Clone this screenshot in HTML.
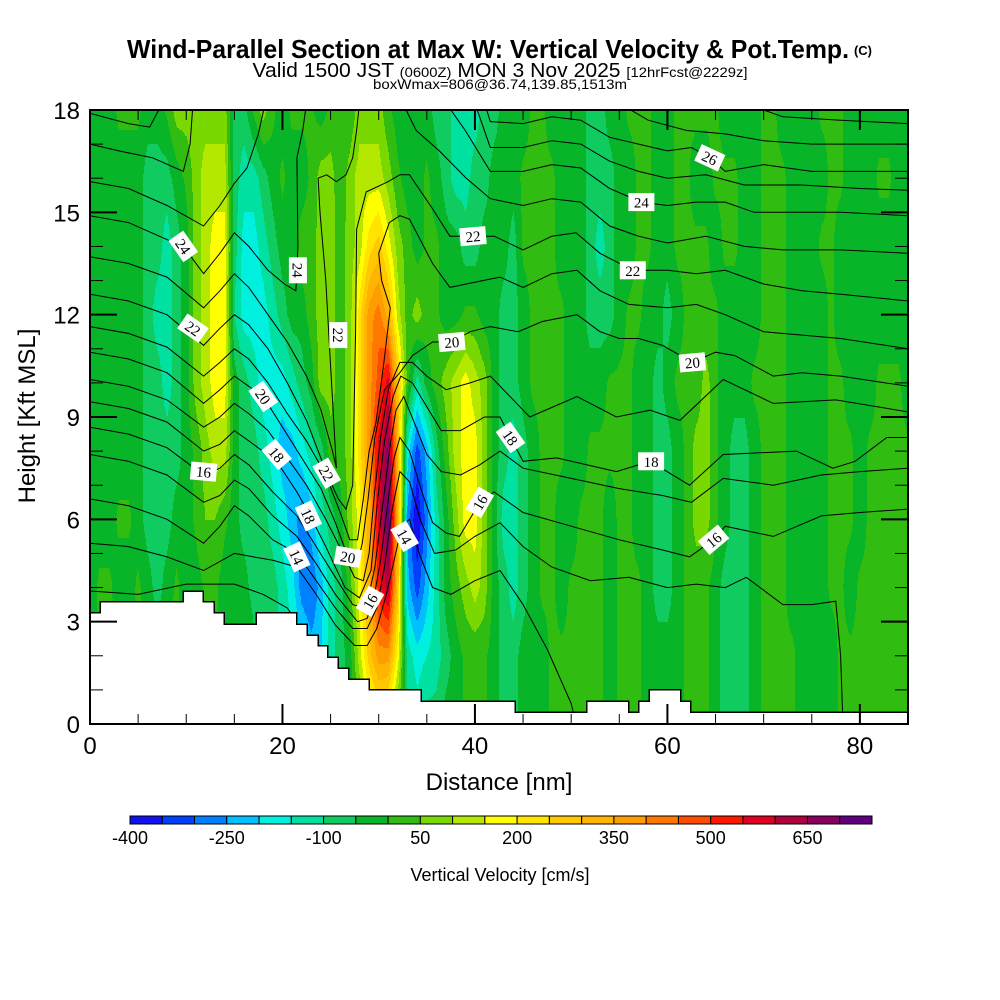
<!DOCTYPE html>
<html><head><meta charset="utf-8"><title>Wind-Parallel Section</title>
<style>
html,body{margin:0;padding:0;background:#fff;width:1000px;height:1000px;overflow:hidden}
svg{display:block}
text{font-family:"Liberation Sans",Arial,sans-serif}
.clab{font-family:"Liberation Serif",serif;font-size:15px}
</style></head>
<body>
<svg id="chart" width="1000" height="1000" viewBox="0 0 1000 1000" xmlns="http://www.w3.org/2000/svg">
<defs><clipPath id="plotclip"><rect x="90" y="110" width="818" height="614"/></clipPath></defs>
<rect x="0" y="0" width="1000" height="1000" fill="#fff"/>
<text x="488" y="58" text-anchor="middle" font-weight="bold" font-size="26" textLength="722" lengthAdjust="spacingAndGlyphs">Wind-Parallel Section at Max W: Vertical Velocity &amp; Pot.Temp.</text>
<text x="863" y="55" text-anchor="middle" font-weight="bold" font-size="13">(C)</text>
<text x="500" y="77" text-anchor="middle" font-size="20" textLength="495" lengthAdjust="spacingAndGlyphs">Valid 1500 JST <tspan font-size="14">(0600Z)</tspan> MON 3 Nov 2025 <tspan font-size="14">[12hrFcst@2229z]</tspan></text>
<text x="500" y="89" text-anchor="middle" font-size="14" textLength="254" lengthAdjust="spacingAndGlyphs">boxWmax=806@36.74,139.85,1513m</text>
<g id="field" clip-path="url(#plotclip)" shape-rendering="crispEdges"></g>
<g id="contours" clip-path="url(#plotclip)"></g>
<g id="terrain" clip-path="url(#plotclip)"></g>
<g id="clabels"></g>
<g id="axes"></g>
<rect x="90" y="110" width="818" height="614" fill="none" stroke="#000" stroke-width="2"/>
<text transform="translate(35,416) rotate(-90)" text-anchor="middle" font-size="24">Height [Kft MSL]</text>
<text x="499" y="790" text-anchor="middle" font-size="24">Distance [nm]</text>
<g id="colorbar"></g>
<text x="500" y="881" text-anchor="middle" font-size="18">Vertical Velocity [cm/s]</text>
</svg>
<script>
// ---- data ----
const distTicks = [0, 20, 40, 60, 80];
const heightTicks = [0, 3, 6, 9, 12, 15, 18];
const cbTickLabels = [-400, -250, -100, 50, 200, 350, 500, 650];
const cbColors = ["#1010f0","#0040ff","#0080ff","#00c0ff","#00f0e0","#00e0a0","#10cc60","#08b428","#30bc10","#78d800","#b4e800","#ffff00","#ffe400","#ffc800","#ffb400","#ff9c00","#ff7800","#ff4c00","#ff1800","#e00020","#b00040","#880060","#600080"];
const gridKft = [0, 2, 4, 6, 8, 10, 12, 14, 16, 18];
// vertical velocity (cm/s) at distance 0..85 nm (1 nm step), per height row
const w0  = [-25,10,10,10,-25,10,10,-25,10,10, -25,-25,10,10,-25,-25,10,-25,-75,-75, -125,-125,-150,-175,-175,-125,-75,-25,25,125, 175,125,25,-75,-125,-75,-75,-25,-25,10, 10,10,-25,-75,-75,-25,-25,-25,10,10, 10,10,10,10,-25,10,10,10,-25,-25, -25,-25,10,10,10,-25,-75,-75,-75,-25, 10,10,10,10,-25,-25,-25,-25,10,10, 10,10,10,10,10,10];
const w2  = [-25,10,10,10,-25,10,10,-25,10,10, -25,-25,10,10,-25,-25,10,-25,-75,-75, -125,-125,-175,-225,-200,-125,-75,-25,125,275, 375,375,175,-125,-175,-150,-125,-75,-25,10, 10,10,-25,-75,-75,-25,-25,-25,10,10, 10,10,10,10,-25,10,10,10,-25,-25, -25,-25,10,10,10,-25,-75,-75,-75,-25, 10,10,10,10,-25,-25,-25,-25,10,10, 10,10,10,10,10,10];
const w4  = [-25,10,10,-25,-25,10,-25,-75,-25,10, -25,-25,10,10,-25,-25,-25,-75,-75,-75, -125,-175,-275,-300,-225,-125,-75,25,175,325, 525,625,275,-225,-325,-225,-125,-25,25,75, 125,75,-25,-75,-125,-75,-25,10,10,-25, 10,10,10,10,-25,10,10,10,-25,-75, -75,-25,10,10,10,-25,-75,-75,-75,-25, 10,10,10,-25,-25,-25,-25,10,10,-25, 10,10,10,10,10,10];
const w6  = [-25,-25,-25,10,10,-25,-75,-75,-75,-25, -25,10,50,50,10,-25,-75,-75,-75,-125, -175,-225,-275,-225,-125,-75,-25,75,175,325, 575,725,325,-275,-400,-275,-125,-25,75,175, 175,75,-25,-125,-125,-75,-25,10,10,-25, -25,10,10,10,-25,10,10,-25,-25,-75, -75,-25,10,75,75,10,-25,-75,-75,-25, 10,10,10,-25,-25,-25,-25,10,10,10, -25,10,10,10,10,10];
const w8  = [-25,-25,-25,-25,-25,-25,-75,-75,-75,-75, -25,10,75,125,125,-25,-75,-75,-125,-175, -225,-225,-175,-125,-75,25,25,75,225,375, 575,675,325,-175,-325,-225,-75,25,125,175, 175,75,-25,-75,-125,-75,-25,10,10,10, -25,-25,10,10,10,10,10,-25,-25,-75, -75,-25,10,75,75,10,-25,-75,-75,-25, 10,10,10,-25,-25,-25,-25,10,10,10, -25,10,10,10,10,10];
const w10 = [-25,-25,-25,-25,-25,-25,-75,-75,-125,-75, -25,75,125,175,175,-25,-75,-125,-175,-175, -175,-125,-75,-25,75,75,25,75,225,375, 475,575,275,25,-125,-25,25,75,125,175, 125,75,-25,-75,-75,-25,10,10,10,10, -25,-25,-25,-25,10,10,10,-25,-25,-75, -25,10,10,10,75,10,-25,-25,-25,10, 10,10,10,-25,-25,-25,-25,10,10,-25, -25,-25,10,10,10,-25];
const w12 = [-25,-25,-25,-25,-25,-25,-75,-125,-125,-75, -25,75,125,175,175,-100,-175,-175,-175,-125, -75,-25,-25,25,75,75,25,75,225,375, 425,325,125,25,75,25,10,-25,-25,10, 10,-25,-25,-75,-75,-25,10,10,10,10, -25,-25,-75,-75,-75,-25,10,10,-25,-25, -75,-25,10,10,10,10,-25,-25,-25,-25, 10,10,10,-25,-25,-25,-25,10,-25,-25, -25,-25,-25,-25,-25,-25];
const w14 = [-25,-25,-25,-25,-25,-25,-75,-75,-125,-75, -25,75,125,175,175,-75,-175,-175,-125,-75, -25,-25,25,25,75,75,25,75,125,225, 275,175,75,25,-25,10,10,-25,-25,-75, -75,-25,-25,-25,-75,10,10,10,10,-25, -25,-25,-75,-125,-75,-25,-25,10,10,-25, -25,10,10,10,10,-25,10,10,-25,-25, 10,10,10,-25,-25,-25,10,10,-25,-25, -25,-25,-25,-25,-25,-25];
const w16 = [-25,-25,-25,-25,-25,-25,-75,-75,-75,-25, 10,75,125,125,125,-75,-125,-125,-75,-25, 10,-25,-25,10,75,75,10,75,125,125, 125,75,10,-25,-25,10,-25,-75,-125,-125, -75,-75,-25,-25,-25,10,10,10,10,-25, -25,-25,-75,-75,-75,-25,-25,10,10,-25, -25,10,10,-25,-25,10,10,10,-25,-25, 10,10,10,-25,-25,-25,-25,10,10,-25, -25,-25,10,10,-25,-25];
const w18 = [-25,-25,-25,10,10,10,-25,-25,10,75, 75,75,75,75,75,-75,-75,10,75,10, -25,10,10,10,-25,10,10,10,75,75, 75,10,-25,-25,-25,-25,-75,-75,-125,-125, -125,-75,-75,-25,-25,-25,10,10,-25,-25, -25,-25,-75,-75,-25,-25,10,10,10,-25, -25,10,10,10,10,10,-25,-25,-25,-25, 10,10,-25,-25,-25,-25,10,10,10,-25, -25,-25,-25,-25,-25,-25];
const wRows = [w0, w2, w4, w6, w8, w10, w12, w14, w16, w18];
// terrain: segment edges (nm) and heights (kft)
const terrX = [0,1.04,9.66,11.74,12.88,13.92,17.25,21.5,22.55,23.7,24.7,25.8,26.9,29.0,34.4,44.2,51.6,56.0,57.0,58.1,61.4,62.4,85];
const terrH = [3.26,3.58,3.9,3.58,3.26,2.93,3.26,2.93,2.61,2.29,1.96,1.64,1.32,1.0,0.67,0.35,0.67,0.35,0.67,1.0,0.67,0.35];
// potential temperature contours: [nm, kft] points
const th13 = [[0,3.9],[5,3.8],[10,4.1],[15,4.1],[18,3.8],[20.5,3.4],[21.5,3.0]];
const th14 = [[0,5.3],[4,5.2],[8,4.9],[11.8,4.5],[15,5.0],[17,4.9],[19,4.8],[21.5,4.6],[23.5,3.8],[25.5,2.9],[27.5,2.3],[28.8,2.3],[29.8,2.8],[30.8,3.8],[31.6,4.8],[32.4,5.8],[33.2,6.0],[34.2,5.0],[35.6,4.0],[37.5,3.8],[40,4.2],[42.6,4.5],[45,3.5],[47.5,2.2],[50,0.6],[50.5,0]];
const th15 = [[0,6.6],[4,6.4],[8,6.0],[11.8,5.3],[13.5,5.8],[15,6.4],[16.5,6.1],[19,5.4],[21.5,5.0],[23.5,4.2],[25.5,3.4],[27.3,2.8],[28.8,2.8],[29.8,3.4],[30.6,4.6],[31.4,6.3],[32.2,7.4],[33.2,7.1],[34.3,6.0],[35.8,5.0],[38,5.1],[40,5.5],[42.6,5.9],[45,5.2],[48,4.6],[52,4.2],[56,4.3],[60,4.0],[63,4.1],[66,4.0],[68.2,4.3],[72,3.5],[75,3.5],[77.5,3.6],[78,2],[78.2,0.3]];
const th16 = [[0,7.9],[4,7.7],[8,7.3],[11.8,6.5],[13.5,6.7],[15,7.15],[16.5,6.9],[19,6.1],[21.5,5.5],[23.5,4.7],[25.5,3.8],[27.8,3.0],[28.8,3.1],[29.5,3.7],[30.2,4.8],[31,6.6],[31.6,7.8],[32.2,8.4],[33.2,8.0],[34.5,6.8],[35.6,5.9],[37,5.6],[38.4,5.5],[40.5,6.5],[42,6.8],[45,6.2],[50,5.8],[55,5.4],[59.5,5.1],[62.3,4.9],[64.8,5.4],[66,5.8],[71,5.5],[76,6.1],[80,6.2],[85,6.3]];
const th17 = [[0,8.7],[4,8.5],[8,8.1],[11.8,7.3],[13.5,7.5],[15,7.9],[16.5,7.6],[19,6.8],[21.5,6.1],[23.5,5.2],[25.5,4.3],[27.3,3.5],[28.7,3.4],[29.6,4.6],[30.5,6.6],[31.2,8.2],[31.8,9.2],[32.6,9.6],[33.6,8.9],[35,7.9],[36.5,7.4],[38.5,7.3],[40.5,7.6],[42.6,8.0],[45,7.5],[50,7.2],[55,6.9],[59.5,6.7],[62.5,6.5],[65.8,7.2],[71,7.0],[76,7.3],[80,7.4],[85,7.5]];
const th18 = [[0,9.45],[4,9.25],[8,8.85],[11.8,8.0],[13.5,8.2],[15,8.6],[16.5,8.3],[19.4,7.7],[21.5,6.8],[22.7,6.2],[24.5,5.2],[26.5,4.0],[28,3.7],[29.2,4.5],[29.9,6.6],[30.6,8.3],[31.5,9.6],[32.3,10.2],[33.5,10.0],[35,9.3],[36.5,8.6],[38.5,8.6],[41,9.0],[42.6,9.0],[43.7,8.4],[45,7.7],[48.5,7.8],[54.7,7.4],[58.2,7.7],[62.3,7.0],[65.8,7.9],[73.4,8.0],[77.2,7.5],[79.5,7.7],[82.8,8.4],[85,8.4]];
const th19 = [[0,10.1],[4,9.9],[8,9.5],[11.8,8.7],[13.5,9.0],[15,9.4],[16.5,9.1],[18.5,8.6],[20.5,7.8],[22.5,7.0],[24.5,6.0],[26.3,5.0],[27.5,4.3],[28.4,4.2],[29,5.0],[29.5,6.6],[30.2,8.4],[31,9.8],[32.2,10.6],[33.5,10.6],[35,10.2],[37,9.8],[39.5,10.0],[41.6,10.2],[45.7,9.0],[50.6,9.6],[54.7,9.0],[58.2,9.2],[61.3,8.9],[65.8,10.1],[71,9.4],[77.5,9.5],[85,9.15]];
const th20 = [[0,10.9],[4,10.7],[8,10.3],[11.8,9.4],[13.5,9.8],[15,10.2],[16.5,9.9],[18,9.6],[20,8.7],[22,7.8],[24,6.9],[25.5,5.9],[26.8,4.9],[27.7,4.6],[28.3,5.3],[28.9,6.6],[29.6,8.4],[30.6,9.8],[32.2,10.3],[33.5,10.8],[35.6,11.2],[37.6,11.2],[39.5,11.5],[41.6,11.65],[44.5,11.5],[47,11.8],[50.6,12.0],[53,11.5],[55,11.3],[57,11.3],[59.5,11.1],[62.6,10.6],[65,10.9],[67,10.8],[71,10.2],[74,10.3],[78,10.2],[85,9.9]];
const th21 = [[0,11.65],[4,11.45],[8,11.05],[11.8,10.2],[13.5,10.6],[15,11.0],[16.5,10.7],[18.5,10.0],[20.5,9.1],[22.5,8.3],[24.5,7.3],[26,6.2],[27,5.4],[27.8,5.4],[28.4,6.6],[29,8.0],[29.7,8.8],[30.5,10.5],[31.2,12.2],[30.3,13.0],[30.0,13.8],[31.1,14.7],[32.2,14.9],[33.2,14.8],[35.6,13.5],[37.4,12.8],[40.8,13.0],[42.6,13.1],[45,12.8],[48,13.2],[50.6,13.3],[53,12.7],[56,12.3],[60,12.2],[63,12.3],[66,12.0],[70,11.5],[74,11.4],[78,11.3],[85,11.0]];
const th22 = [[0,12.6],[4,12.4],[8,12.0],[11.8,11.1],[13.5,11.6],[15,12.0],[16.5,11.7],[18.5,11.0],[20.5,10.0],[22.5,8.9],[24.6,7.35],[25.8,6.6],[26.6,6.3],[27.3,7.0],[27.4,8.6],[27.6,11.5],[27.7,14.5],[28.7,15.6],[31,15.9],[32.2,16.1],[33.2,16.1],[35.6,15.1],[37.4,14.3],[39.8,14.3],[42,14.3],[45,13.9],[48,14.3],[50.5,14.4],[53,13.8],[56.4,13.3],[60,13.3],[63,13.2],[66,13.3],[70,12.9],[74,12.7],[78,12.6],[85,12.4]];
const th23 = [[0,13.7],[4,13.5],[8,13.1],[11.8,12.2],[13.5,12.7],[15,13.2],[16.5,12.8],[18.5,12.0],[20.5,11.2],[22.5,10.2],[24,9.2],[25.2,8.0],[25.6,7.5],[25.3,9.0],[24.9,11.0],[24.5,13.0],[23.9,15.0],[23.7,16.0],[24.6,16.1],[25.6,15.9],[26.6,16.1],[27.3,16.6],[27.7,17.4],[28.0,18.2]];
const th23b = [[32.5,18.2],[33.9,17.4],[36.3,16.8],[39.1,16.0],[41.6,15.4],[45,15.2],[48,15.4],[51,15.3],[54,14.6],[57,14.3],[60,14.1],[64,14.3],[68,14.0],[72,13.9],[78,13.9],[85,13.8]];
const th24 = [[0,14.9],[4,14.7],[8,14.2],[9.7,14.0],[11.8,13.2],[13.5,13.8],[15,14.4],[16.5,14.0],[18.5,13.3],[20.2,12.9],[21.4,12.7],[21.6,14],[21.5,16.6],[22.1,17.4],[22.5,18.2]];
const th24b = [[37,18.2],[39,17.4],[41.6,16.2],[45,16.2],[48,16.4],[51,16.3],[54,15.7],[57.3,15.3],[60,15.2],[63,15.3],[66,15.3],[69,15.0],[73,15.0],[78,15.0],[85,14.9]];
const th25 = [[0,15.9],[4,15.7],[8,15.2],[11.8,14.6],[13.5,15.2],[15,15.85],[16.3,16.3],[17.5,17.3],[18.2,18.2]];
const th25b = [[40,18.2],[41.6,16.9],[45,16.9],[48,17.1],[51,17.0],[54,16.5],[57,16.2],[60,16.0],[64,16.1],[68,15.8],[74,15.8],[80,15.7],[85,15.65]];
const th26 = [[0,17.0],[3,16.8],[6.5,16.6],[9.7,16.2],[10.4,17.0],[10.7,18.2]];
const th26b = [[41,18.2],[41.6,17.66],[45,17.6],[48,17.8],[51,17.7],[54,17.2],[57,17.0],[60,16.8],[62.5,16.9],[64.4,16.6],[66,16.2],[70,16.4],[75,16.2],[85,16.2]];
const th27 = [[0,17.9],[4,17.6],[6.2,17.5],[7.5,18.2]];
const th27b = [[55,18.2],[58,17.7],[62,17.4],[66,17.3],[70,17.1],[75,17.0],[85,17.0]];
const th28b = [[68,18.2],[72,17.8],[78,17.7],[85,17.6]];
const contourLines = [th13,th14,th15,th16,th17,th18,th19,th20,th21,th22,th23,th23b,th24,th24b,th25,th25b,th26,th26b,th27,th27b,th28b];
// contour labels
const labelText = ["24","22","16","24","22","20","18","22","18","14","20","16","14","20","22","18","16","26","24","22","20","18","16"];
const labelNm   = [9.7,10.7,11.8,21.6,25.8,18.0,19.4,24.6,22.7,21.5,26.8,29.1,32.7,37.6,39.8,43.7,40.5,64.4,57.3,56.4,62.6,58.3,64.8];
const labelKft  = [14.0,11.6,7.4,13.3,11.4,9.6,7.9,7.35,6.1,4.9,4.9,3.6,5.5,11.2,14.3,8.4,6.5,16.6,15.3,13.3,10.6,7.7,5.4];
const labelRot  = [55,35,5,90,90,55,50,60,65,65,10,-60,60,-5,-5,55,-60,25,0,0,-5,0,-40];

// ---- scales ----
const X0 = 90, X1 = 908, Y0 = 724, Y1 = 110, NMMAX = 85, KMAX = 18;
const xS = nm => X0 + nm * (X1 - X0) / NMMAX;
const yS = k => Y0 - k * (Y0 - Y1) / KMAX;
const NS = "http://www.w3.org/2000/svg";
function mk(tag, attrs, parent) {
  const e = document.createElementNS(NS, tag);
  for (const k in attrs) e.setAttribute(k, attrs[k]);
  parent.appendChild(e);
  return e;
}
function sample(nm, k) {
  const nr = gridKft.length;
  let r = k / 2; if (r < 0) r = 0; if (r > nr - 1) r = nr - 1;
  const r0 = Math.min(Math.floor(r), nr - 2), t = r - r0;
  let c = nm; if (c < 0) c = 0; if (c > 85) c = 85;
  const c0 = Math.min(Math.floor(c), 84), u = c - c0;
  const A = wRows[r0], B = wRows[r0 + 1];
  const a = A[c0] * (1 - u) + A[c0 + 1] * u;
  const b = B[c0] * (1 - u) + B[c0 + 1] * u;
  return a * (1 - t) + b * t;
}

// ---- field ----
const field = document.getElementById('field');
const pathData = cbColors.map(() => []);
for (let py = Y1; py < Y0; py += 2) {
  const k = (Y0 - (py + 1)) * KMAX / (Y0 - Y1);
  let runStart = X0, runBin = -1;
  for (let px = X0; px <= X1; px++) {
    let bin = -2;
    if (px < X1) {
      const nm = (px + 0.5 - X0) * NMMAX / (X1 - X0);
      const v = sample(nm, k);
      bin = Math.max(0, Math.min(cbColors.length - 1, Math.floor((v + 400) / 50)));
    }
    if (bin !== runBin) {
      if (runBin >= 0) pathData[runBin].push('M' + runStart + ' ' + py + 'h' + (px - runStart) + 'v2h-' + (px - runStart) + 'z');
      runBin = bin; runStart = px;
    }
  }
}
pathData.forEach((d, i) => {
  if (!d.length) return;
  const p = mk('path', {d: d.join(''), fill: cbColors[i]}, field);
  
  
});

// ---- contours ----
const cg = document.getElementById('contours');
contourLines.forEach((pts, i) => {
  const d = pts.map((p, j) => (j ? 'L' : 'M') + xS(p[0]).toFixed(1) + ' ' + yS(p[1]).toFixed(1)).join('');
  const p = mk('path', {d: d, fill: 'none', stroke: '#000', 'stroke-width': 1}, cg);
  
  
});

// ---- terrain ----
const tg = document.getElementById('terrain');
let td = 'M' + xS(0) + ' ' + (Y0 + 2);
for (let i = 0; i < terrH.length; i++) {
  td += 'L' + xS(terrX[i]).toFixed(1) + ' ' + yS(terrH[i]).toFixed(1) + 'L' + xS(terrX[i + 1]).toFixed(1) + ' ' + yS(terrH[i]).toFixed(1);
}
td += 'L' + xS(85) + ' ' + (Y0 + 2) + 'Z';
const tp = mk('path', {d: td, fill: '#fff', stroke: '#000', 'stroke-width': 1.5, 'shape-rendering': 'crispEdges'}, tg);



// ---- contour labels ----
const lg = document.getElementById('clabels');
labelText.forEach((t, i) => {
  const g = mk('g', {transform: 'translate(' + xS(labelNm[i]).toFixed(1) + ',' + yS(labelKft[i]).toFixed(1) + ') rotate(' + labelRot[i] + ')'}, lg);
  
  
  mk('rect', {x: -13, y: -9, width: 26, height: 18, fill: '#fff'}, g);
  const tx = mk('text', {x: 0, y: 5.5, 'text-anchor': 'middle', class: 'clab'}, g);
  tx.textContent = t;
});

// ---- axes ----
const ag = document.getElementById('axes');
for (let nm = 0; nm <= 85; nm += 5) {
  const x = xS(nm), major = nm % 20 === 0, L = major ? 20 : 10;
  mk('line', {x1: x, y1: Y0, x2: x, y2: Y0 - L, stroke: '#000', 'stroke-width': major ? 2 : 1}, ag);
  mk('line', {x1: x, y1: Y1, x2: x, y2: Y1 + L, stroke: '#000', 'stroke-width': major ? 2 : 1}, ag);
}
for (let k = 0; k <= 18; k += 1) {
  const y = yS(k), major = k % 3 === 0, L = major ? 27 : 13;
  mk('line', {x1: X0, y1: y, x2: X0 + L, y2: y, stroke: '#000', 'stroke-width': major ? 2 : 1}, ag);
  mk('line', {x1: X1, y1: y, x2: X1 - L, y2: y, stroke: '#000', 'stroke-width': major ? 2 : 1}, ag);
}
distTicks.forEach(v => {
  const t = mk('text', {x: xS(v), y: 754, 'text-anchor': 'middle', 'font-size': 24}, ag);
  
  
  t.textContent = v;
});
heightTicks.forEach(v => {
  const t = mk('text', {x: 80, y: yS(v) + 9, 'text-anchor': 'end', 'font-size': 24}, ag);
  
  
  t.textContent = v;
});

// ---- colorbar ----
const cb = document.getElementById('colorbar');
const CBX0 = 130, CBX1 = 872, CBY = 816, CBH = 8;
const bw = (CBX1 - CBX0) / cbColors.length;
cbColors.forEach((c, i) => {
  const r = mk('rect', {x: (CBX0 + i * bw).toFixed(2), y: CBY, width: bw.toFixed(2), height: CBH, fill: c, stroke: '#000', 'stroke-width': 1}, cb);
  
  
});
cbTickLabels.forEach(v => {
  const i = (v + 400) / 50;
  const t = mk('text', {x: (CBX0 + i * bw).toFixed(1), y: 844, 'text-anchor': 'middle', 'font-size': 18}, cb);
  
  
  t.textContent = v;
});
</script>
</body></html>
